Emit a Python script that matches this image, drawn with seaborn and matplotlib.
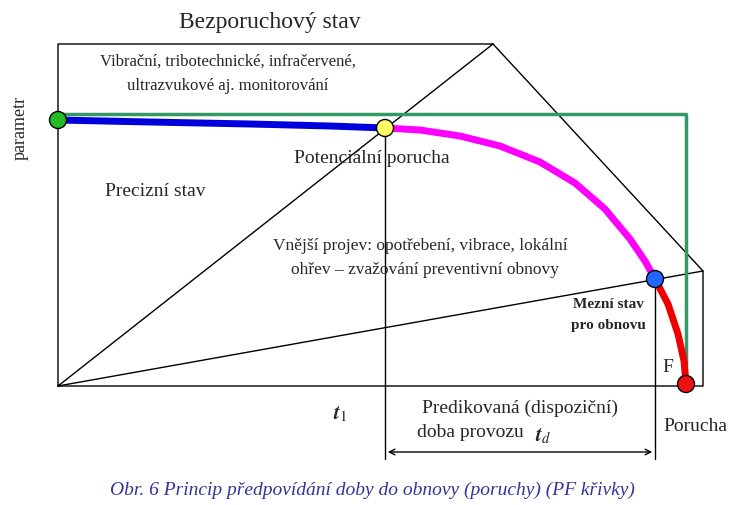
import numpy as np
import matplotlib
matplotlib.use("Agg")
import matplotlib.pyplot as plt
import seaborn as sns

sns.set_style("white")
plt.rcParams['font.family'] = ['Liberation Serif', 'DejaVu Serif']
plt.rcParams['mathtext.fontset'] = 'stix'

# diagram frame (pixel coords of the reference)
frame_x = [58, 493, 703, 703, 58, 58, 493]
frame_y = [387, 45, 272, 387, 387, 45, 45]
lower_x = [58, 703]
lower_y = [387, 272]
green_x = [58, 686, 686]
green_y = [115, 115, 380]

blue_x = [58, 150, 250, 330, 385]
blue_y = [121, 123, 125, 127, 129]
magenta_x = [385, 420, 460, 500, 540, 575, 605, 630, 645, 655]
magenta_y = [129, 131, 137, 147, 163, 184, 210, 240, 262, 280]
red_x = [655, 668, 678, 684, 686]
red_y = [280, 305, 335, 362, 385]

pts_x = [58, 385, 655, 686]
pts_y = [121, 129, 280, 385]
pts_c = ['#22bb22', '#ffff66', '#2266ff', '#ee1111']

fig = plt.figure(figsize=(7.44, 5.06), dpi=100)
ax = fig.add_axes([0, 0, 1, 1])
ax.set_xlim(0, 744)
ax.set_ylim(506, 0)
ax.axis('off')

ax.plot(frame_x, frame_y, color='black', lw=1)
ax.plot(lower_x, lower_y, color='black', lw=1)
ax.plot(green_x, green_y, color='#339966', lw=2.5)
ax.plot([385, 385], [129, 460], color='black', lw=1)
ax.plot([655, 655], [280, 460], color='black', lw=1)
sns.lineplot(x=blue_x, y=blue_y, sort=False, estimator=None, color='#0000dd', lw=5, ax=ax)
sns.lineplot(x=magenta_x, y=magenta_y, sort=False, estimator=None, color='#ff00ff', lw=5, ax=ax)
sns.lineplot(x=red_x, y=red_y, sort=False, estimator=None, color='#ee0000', lw=5, ax=ax)
ax.scatter(pts_x, pts_y, s=150, c=pts_c, edgecolors='black', linewidths=1, zorder=5)

ax.annotate('', xy=(385, 453), xytext=(655, 453),
            arrowprops=dict(arrowstyle='<->', color='black', lw=1))

ax.text(270, 22, 'Bezporuchový stav', fontsize=17, ha='center', va='center')
ax.text(228, 62, 'Vibrační, tribotechnické, infračervené,', fontsize=12, ha='center', va='center')
ax.text(228, 86, 'ultrazvukové aj. monitorování', fontsize=12, ha='center', va='center')
ax.text(20, 128, 'parametr', fontsize=13, rotation=90, ha='center', va='center')
ax.text(372, 158, 'Potenciální porucha', fontsize=14, ha='center', va='center')
ax.text(155, 192, 'Precizní stav', fontsize=14, ha='center', va='center')
ax.text(420, 246, 'Vnější projev: opotřebení, vibrace, lokální', fontsize=12.5, ha='center', va='center')
ax.text(425, 270, 'ohřev – zvažování preventivní obnovy', fontsize=12.5, ha='center', va='center')
ax.text(608, 304, 'Mezní stav', fontsize=11, fontweight='bold', ha='center', va='center')
ax.text(608, 326, 'pro obnovu', fontsize=11, fontweight='bold', ha='center', va='center')
ax.text(668, 368, 'F', fontsize=14, ha='center', va='center')
ax.text(340, 414, r'$\boldsymbol{t}_{\mathit{1}}$', fontsize=15, ha='center', va='center')
ax.text(520, 408, 'Predikovaná (dispoziční)', fontsize=14, ha='center', va='center')
ax.text(470, 433, 'doba provozu', fontsize=14, ha='center', va='center')
ax.text(543, 436, r'$\boldsymbol{t}_{\mathit{d}}$', fontsize=15, ha='center', va='center')
ax.text(695, 427, 'Porucha', fontsize=14, ha='center', va='center')
ax.text(372, 490, 'Obr. 6 Princip předpovídání doby do obnovy (poruchy) (PF křivky)',
        fontsize=14, style='italic', color='#333399', ha='center', va='center')

fig.savefig('out.png', dpi=100)
